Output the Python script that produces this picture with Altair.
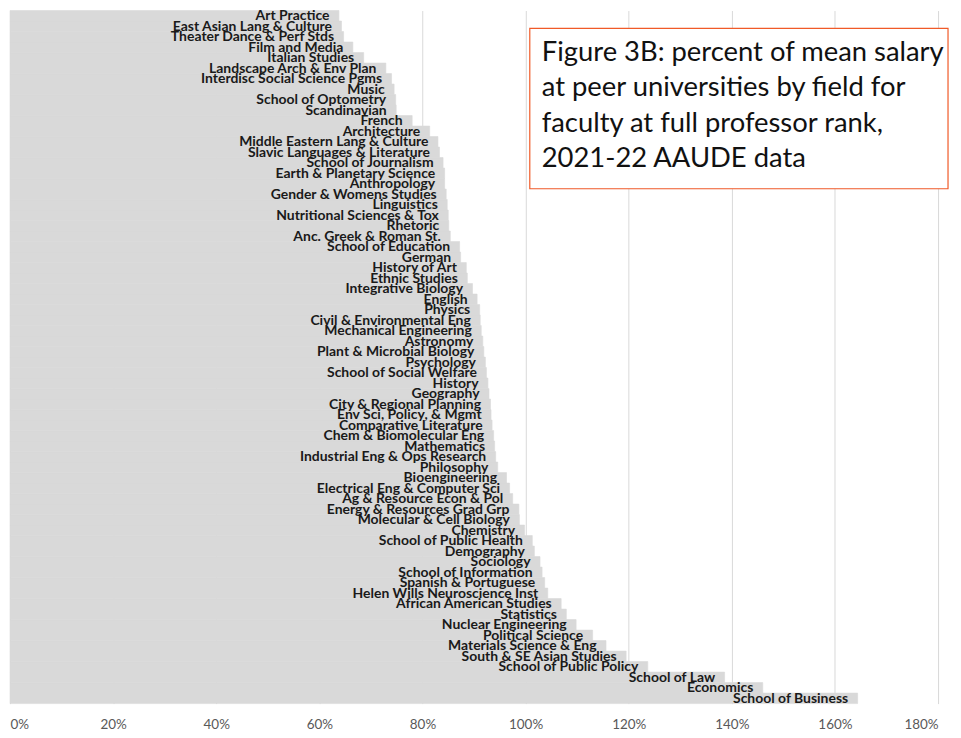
import altair as alt
import pandas as pd

fields = [
    "Art Practice", "East Asian Lang & Culture", "Theater Dance & Perf Stds", "Film and Media",
    "Italian Studies", "Landscape Arch & Env Plan", "Interdisc Social Science Pgms", "Music",
    "School of Optometry", "Scandinavian", "French", "Architecture",
    "Middle Eastern Lang & Culture", "Slavic Languages & Literature", "School of Journalism",
    "Earth & Planetary Science", "Anthropology", "Gender & Womens Studies", "Linguistics",
    "Nutritional Sciences & Tox", "Rhetoric", "Anc. Greek & Roman St.", "School of Education",
    "German", "History of Art", "Ethnic Studies", "Integrative Biology", "English", "Physics",
    "Civil & Environmental Eng", "Mechanical Engineering", "Astronomy", "Plant & Microbial Biology",
    "Psychology", "School of Social Welfare", "History", "Geography", "City & Regional Planning",
    "Env Sci, Policy, & Mgmt", "Comparative Literature", "Chem & Biomolecular Eng", "Mathematics",
    "Industrial Eng & Ops Research", "Philosophy", "Bioengineering", "Electrical Eng & Computer Sci",
    "Ag & Resource Econ & Pol", "Energy & Resources Grad Grp", "Molecular & Cell Biology",
    "Chemistry", "School of Public Health", "Demography", "Sociology", "School of Information",
    "Spanish & Portuguese", "Helen Wills Neuroscience Inst", "African American Studies",
    "Statistics", "Nuclear Engineering", "Political Science", "Materials Science & Eng",
    "South & SE Asian Studies", "School of Public Policy", "School of Law", "Economics",
    "School of Business",
]

pct = [
    63.8, 64.3, 64.7, 66.5, 68.6, 72.9, 74.0, 74.5, 74.8, 74.9, 78.0, 81.4,
    83.0, 83.3, 84.0, 84.3, 84.3, 84.6, 84.8, 85.0, 85.1, 85.4, 87.2, 87.4,
    88.5, 88.7, 89.7, 90.6, 91.1, 91.2, 91.4, 91.7, 91.9, 92.2, 92.4, 92.7,
    92.9, 93.2, 93.3, 93.5, 93.8, 94.0, 94.2, 94.6, 96.3, 96.9, 97.5, 98.7,
    98.8, 99.8, 101.3, 101.7, 102.8, 103.2, 103.7, 104.3, 106.9, 107.9,
    109.8, 113.0, 115.6, 119.5, 123.7, 138.6, 146.0, 164.4,
]

title_lines = [
    "Figure 3B: percent of mean salary",
    "at peer universities by field for",
    "faculty at full professor rank,",
    "2021-22 AAUDE data",
]

df = pd.DataFrame({"field": fields, "pct": pct})

W, H = 932, 696

x_scale = alt.Scale(domain=[0, 180], nice=False, zero=True)
y_enc = alt.Y("field:N", sort=None, axis=None,
              scale=alt.Scale(paddingInner=0, paddingOuter=0))

bars = alt.Chart(df).mark_bar(color="#d9d9d9", stroke="#d9d9d9", strokeWidth=0.6).encode(
    x=alt.X("pct:Q", scale=x_scale,
            axis=alt.Axis(values=list(range(0, 181, 20)),
                          labelExpr="datum.value + '%'",
                          grid=True, gridColor="#d9d9d9", gridWidth=1,
                          domain=False, ticks=False, labelPadding=14,
                          labelFont="Lato", labelFontSize=13.5, labelColor="#595959",
                          title=None)),
    y=y_enc,
)

labels = alt.Chart(df).mark_text(
    align="right", baseline="middle", dx=-9.5, dy=0.5, font="Lato", fontWeight="bold",
    fontSize=14, color="#1a1a1a"
).encode(
    x=alt.X("pct:Q", scale=x_scale),
    y=y_enc,
    text="field:N",
)

box = alt.Chart(pd.DataFrame({"a": [0]})).mark_rect(
    fill="white", stroke="#f05a28", strokeWidth=1.2
).encode(
    x=alt.value(522), x2=alt.value(942), y=alt.value(18), y2=alt.value(179)
)

tdf = pd.DataFrame({"line": title_lines, "i": list(range(len(title_lines)))})
title_text = alt.Chart(tdf).mark_text(
    align="left", baseline="middle", font="Lato", fontSize=27.5, color="#111111"
).encode(
    x=alt.value(534),
    y=alt.Y("i:O", axis=None, scale=alt.Scale(range=[43, 149], padding=0)),
    text="line:N",
)

chart = alt.layer(bars, labels, box, title_text).resolve_scale(y="independent").properties(
    width=W, height=H,
    autosize=alt.AutoSizeParams(type="none"),
    padding={"left": 2, "top": 1, "right": 15, "bottom": 30},
).configure_view(stroke=None)

chart.save("out.html", embed_options={"renderer": "svg", "actions": False})
